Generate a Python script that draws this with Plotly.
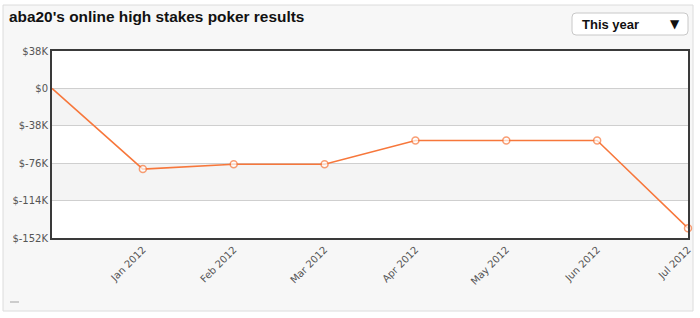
import plotly.graph_objects as go

# ---- data ----
categories = ["Start", "Jan 2012", "Feb 2012", "Mar 2012", "Apr 2012",
              "May 2012", "Jun 2012", "Jul 2012"]
results = [0, -82000, -77000, -77000, -53000, -53000, -53000, -142000]
y_tickvals = [38000, 0, -38000, -76000, -114000, -152000]
y_ticktext = ["$38K", "$0", "$-38K", "$-76K", "$-114K", "$-152K"]
title_text = "aba20's online high stakes poker results"
dropdown_text = "This year"

W, H = 700, 318
L, R, T, B = 52, 12, 51, 80
pw, ph = W - L - R, H - T - B

def px(x):
    return (x - L) / pw

def py(y):
    return (H - B - y) / ph

ORANGE = "#f7773b"

fig = go.Figure()
fig.add_trace(go.Scatter(
    x=categories, y=results, mode="lines+markers",
    line=dict(color=ORANGE, width=1.5),
    marker=dict(size=[0] + [7] * (len(results) - 1), color="white",
                line=dict(color=ORANGE, width=1.5)),
    hoverinfo="skip", showlegend=False, cliponaxis=False,
))

shapes = [
    # outer panel
    dict(type="rect", xref="paper", yref="paper", x0=px(3), x1=px(693),
         y0=py(311), y1=py(5), fillcolor="#f7f7f7",
         line=dict(color="#dcdcdc", width=1), layer="below"),
    # plot area background
    dict(type="rect", xref="paper", yref="paper", x0=0, x1=1, y0=0, y1=1,
         fillcolor="white", line=dict(width=0), layer="below"),
]
# alternating bands
for i in range(len(y_tickvals) - 1):
    if i % 2 == 1:
        shapes.append(dict(type="rect", xref="paper", yref="y", x0=0, x1=1,
                           y0=y_tickvals[i + 1], y1=y_tickvals[i],
                           fillcolor="#f4f4f4", line=dict(width=0), layer="below"))
# small legend dash
shapes.append(dict(type="line", xref="paper", yref="paper", x0=px(10), x1=px(19),
                   y0=py(302), y1=py(302), line=dict(color="#cccccc", width=2)))
# dropdown box
x0d, x1d, y0d, y1d, r = 572, 688, 13, 35, 4
path = (f"M {px(x0d + r)},{py(y0d)} L {px(x1d - r)},{py(y0d)} "
        f"Q {px(x1d)},{py(y0d)} {px(x1d)},{py(y0d + r)} "
        f"L {px(x1d)},{py(y1d - r)} Q {px(x1d)},{py(y1d)} {px(x1d - r)},{py(y1d)} "
        f"L {px(x0d + r)},{py(y1d)} Q {px(x0d)},{py(y1d)} {px(x0d)},{py(y1d - r)} "
        f"L {px(x0d)},{py(y0d + r)} Q {px(x0d)},{py(y0d)} {px(x0d + r)},{py(y0d)} Z")
shapes.append(dict(type="path", xref="paper", yref="paper", path=path,
                   fillcolor="white", line=dict(color="#c8c8c8", width=1)))

annotations = [
    dict(text=f"<b>{title_text}</b>", xref="paper", yref="paper", x=px(7), y=py(17),
         xanchor="left", yanchor="middle", showarrow=False,
         font=dict(family="Liberation Sans, Arial", size=15.4, color="#111")),
    dict(text=f"<b>{dropdown_text}</b>", xref="paper", yref="paper", x=px(580), y=py(24),
         xanchor="left", yanchor="middle", showarrow=False,
         font=dict(family="Liberation Sans, Arial", size=13, color="#111")),
    dict(text="▼", xref="paper", yref="paper", x=px(682), y=py(24),
         xanchor="right", yanchor="middle", showarrow=False,
         font=dict(family="DejaVu Sans", size=12, color="#111")),
]

fig.update_layout(
    width=W, height=H, margin=dict(l=L, r=R, t=T, b=B, autoexpand=False),
    paper_bgcolor="white", plot_bgcolor="rgba(0,0,0,0)",
    shapes=shapes, annotations=annotations,
    font=dict(family="DejaVu Sans", size=10, color="#555"),
)
fig.update_xaxes(
    type="category", range=[0, len(categories) - 1],
    tickvals=categories[1:], tickangle=-45, showgrid=False, zeroline=False,
    showline=True, linecolor="#3a3a3a", linewidth=2, mirror=True,
    ticks="", tickfont=dict(size=10, color="#555"), automargin=False,
)
fig.update_yaxes(
    range=[y_tickvals[-1], y_tickvals[0]], tickvals=y_tickvals, ticktext=y_ticktext,
    showgrid=True, gridcolor="#cfcfcf", gridwidth=1, zeroline=False,
    showline=True, linecolor="#3a3a3a", linewidth=2, mirror=True,
    ticks="", tickfont=dict(size=10, color="#555"), automargin=False,
)

fig.write_html("out.html")
